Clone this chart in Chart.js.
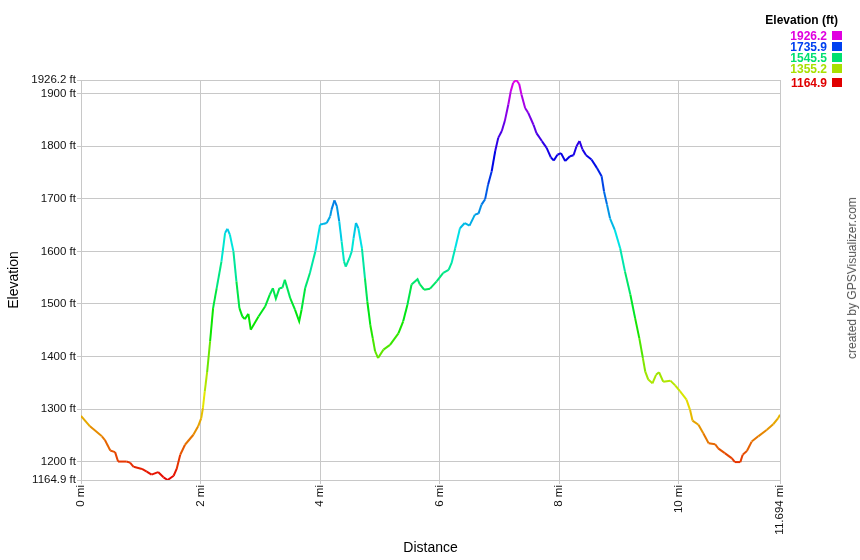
<!DOCTYPE html>
<html>
<head>
<meta charset="utf-8">
<script src="https://cdn.jsdelivr.net/npm/chart.js@4"></script>
<style>
  html, body { margin: 0; padding: 0; background: #fff; }
  #wrap { position: relative; width: 860px; height: 560px; font-family: "Liberation Sans", Arial, sans-serif; }
  #chart { position: absolute; left: 0; top: 0; }
  .legtitle { position: absolute; left: 700px; width: 138px; top: 13px; text-align: right; font-weight: bold; font-size: 12px; color: #000; }
  .legrow { position: absolute; left: 700px; width: 127px; text-align: right; font-weight: bold; font-size: 12px; line-height: 12px; }
  .legbox { position: absolute; left: 832px; width: 10px; height: 9px; }
  #credit { position: absolute; left: 852px; top: 278px; transform: translate(-50%, -50%) rotate(-90deg); white-space: nowrap; font-size: 12px; color: #555; }
</style>
</head>
<body>
<div id="wrap">
  <canvas id="chart" width="860" height="560"></canvas>
  <div id="legend"></div>
  <div id="credit">created by GPSVisualizer.com</div>
</div>
<script>
// distance along the track (mi) and elevation (ft)
const distance = [
    0.00, 0.15, 0.35, 0.40, 0.49, 0.57, 0.62, 0.76, 0.82, 0.88,
    1.02, 1.10, 1.18, 1.29, 1.38, 1.45, 1.55, 1.60, 1.66, 1.74,
    1.88, 1.96, 2.01, 2.04, 2.07, 2.11, 2.16, 2.21, 2.27, 2.35,
    2.41, 2.45, 2.49, 2.55, 2.60, 2.65, 2.70, 2.74, 2.80, 2.84,
    2.97, 3.08, 3.16, 3.21, 3.26, 3.32, 3.37, 3.41, 3.50, 3.58,
    3.65, 3.69, 3.75, 3.83, 3.92, 4.00, 4.05, 4.11, 4.17, 4.19,
    4.24, 4.28, 4.32, 4.36, 4.40, 4.43, 4.49, 4.53, 4.56, 4.60,
    4.64, 4.70, 4.75, 4.79, 4.84, 4.88, 4.92, 4.97, 5.06, 5.17,
    5.31, 5.39, 5.46, 5.53, 5.63, 5.67, 5.74, 5.84, 5.95, 6.06,
    6.15, 6.20, 6.26, 6.34, 6.42, 6.50, 6.59, 6.65, 6.70, 6.76,
    6.81, 6.87, 6.93, 6.98, 7.04, 7.09, 7.15, 7.19, 7.23, 7.28,
    7.33, 7.37, 7.43, 7.48, 7.57, 7.62, 7.71, 7.79, 7.86, 7.91,
    7.97, 8.03, 8.10, 8.18, 8.24, 8.29, 8.34, 8.39, 8.45, 8.54,
    8.63, 8.71, 8.75, 8.80, 8.85, 8.93, 9.02, 9.10, 9.19, 9.27,
    9.34, 9.40, 9.44, 9.49, 9.56, 9.62, 9.67, 9.74, 9.86, 9.94,
    10.02, 10.13, 10.19, 10.23, 10.33, 10.41, 10.50, 10.61, 10.66, 10.77,
    10.89, 10.94, 11.03, 11.07, 11.14, 11.22, 11.33, 11.47, 11.58, 11.66,
    11.694
];
const elevation = [
    1287, 1267, 1248, 1241, 1221, 1218, 1200, 1200, 1198, 1190,
    1186, 1181, 1175, 1180, 1170, 1164.9, 1173, 1186, 1213, 1232,
    1251, 1267, 1282, 1302, 1333, 1370, 1429, 1492, 1530, 1581,
    1635, 1643, 1632, 1600, 1543, 1492, 1476, 1471, 1481, 1451,
    1476, 1495, 1518, 1530, 1510, 1530, 1531, 1546, 1511, 1489,
    1467, 1489, 1530, 1559, 1600, 1651, 1652, 1654, 1667, 1679,
    1697, 1686, 1657, 1619, 1581, 1571, 1587, 1600, 1625, 1654,
    1644, 1606, 1549, 1505, 1460, 1435, 1410, 1397, 1413, 1422,
    1444, 1467, 1498, 1537, 1547, 1537, 1527, 1529, 1543, 1559,
    1565, 1578, 1606, 1644, 1654, 1649, 1670, 1672, 1689, 1699,
    1727, 1752, 1791, 1816, 1829, 1848, 1880, 1905, 1921, 1926.2,
    1919, 1898, 1873, 1864, 1841, 1825, 1810, 1797, 1779, 1773,
    1784, 1787, 1772, 1781, 1783, 1800, 1810, 1794, 1783, 1775,
    1759, 1743, 1714, 1689, 1663, 1641, 1606, 1562, 1518, 1473,
    1435, 1397, 1371, 1356, 1349, 1365, 1370, 1352, 1354, 1345,
    1334, 1318, 1298, 1278, 1270, 1254, 1235, 1233, 1225, 1216,
    1206, 1199, 1199, 1213, 1220, 1238, 1248, 1260, 1271, 1282,
    1289
];

const minElev = 1164.9;
const maxElev = 1926.2;
const xTicks = [0, 2, 4, 6, 8, 10, 11.694];
const yTicks = [1164.9, 1200, 1300, 1400, 1500, 1600, 1700, 1800, 1900, 1926.2];
const legendValues = [1926.2, 1735.9, 1545.5, 1355.2, 1164.9];
const legendColors = ['#e000e0', '#0040f0', '#00e070', '#a8e000', '#e00000'];
const legendTops = [30, 41, 52, 63, 77];

// red at the bottom, magenta at the top
function elevColor (e) {
    const t = Math.max(0, Math.min(1, (e - minElev) / (maxElev - minElev)));
    return 'hsl(' + (t * 300).toFixed(1) + ', 100%, 45%)';
}

// legend on the top right
const legend = document.getElementById('legend');
const lt = document.createElement('div');
lt.className = 'legtitle';
lt.textContent = 'Elevation (ft)';
legend.append(lt);
legendValues.forEach((v, i) => {
    const row = document.createElement('div');
    row.className = 'legrow';
    row.style.top = legendTops[i] + 'px';
    row.style.color = legendColors[i];
    row.textContent = v.toFixed(1);
    legend.append(row);
    const box = document.createElement('div');
    box.className = 'legbox';
    box.style.top = (legendTops[i] + 1) + 'px';
    box.style.background = legendColors[i];
    legend.append(box);
});

const gridColor = '#c8c8c8';
const tickFont = { family: '"Liberation Sans", Arial, sans-serif', size: 11.5 };
const titleFont = { family: '"Liberation Sans", Arial, sans-serif', size: 14 };

new Chart(document.getElementById('chart'), {
    type: 'line',
    data: {
        datasets: [{
            data: distance.map((d, i) => ({ x: d, y: elevation[i] })),
            borderWidth: 2,
            pointRadius: 0,
            tension: 0,
            borderColor: elevColor(minElev),
            segment: {
                borderColor: ctx => elevColor((ctx.p0.parsed.y + ctx.p1.parsed.y) / 2)
            }
        }]
    },
    options: {
        responsive: false,
        animation: false,
        devicePixelRatio: 1,
        layout: { padding: { left: 0, top: 80, right: 80, bottom: 0 } },
        plugins: { legend: { display: false }, tooltip: { enabled: false } },
        scales: {
            x: {
                type: 'linear',
                min: 0,
                max: 11.694,
                afterBuildTicks: s => { s.ticks = xTicks.map(v => ({ value: v })); },
                afterFit: s => { s.height = 80; },
                grid: { color: gridColor, tickLength: 4 },
                border: { color: gridColor },
                ticks: {
                    color: '#111',
                    font: tickFont,
                    padding: 1,
                    autoSkip: false,
                    minRotation: 90,
                    maxRotation: 90,
                    callback: v => v + ' mi'
                },
                title: { display: true, text: 'Distance', color: '#000', font: titleFont, padding: { top: 0, bottom: 3 } }
            },
            y: {
                min: minElev,
                max: maxElev,
                afterBuildTicks: s => { s.ticks = yTicks.map(v => ({ value: v })); },
                afterFit: s => { s.width = 81; },
                grid: { color: gridColor, tickLength: 4 },
                border: { color: gridColor },
                ticks: {
                    color: '#111',
                    font: tickFont,
                    padding: 1,
                    autoSkip: false,
                    callback: v => v + ' ft'
                },
                title: { display: true, text: 'Elevation', color: '#000', font: titleFont, padding: { top: 6, bottom: 0 } }
            }
        }
    }
});
</script>
</body>
</html>
